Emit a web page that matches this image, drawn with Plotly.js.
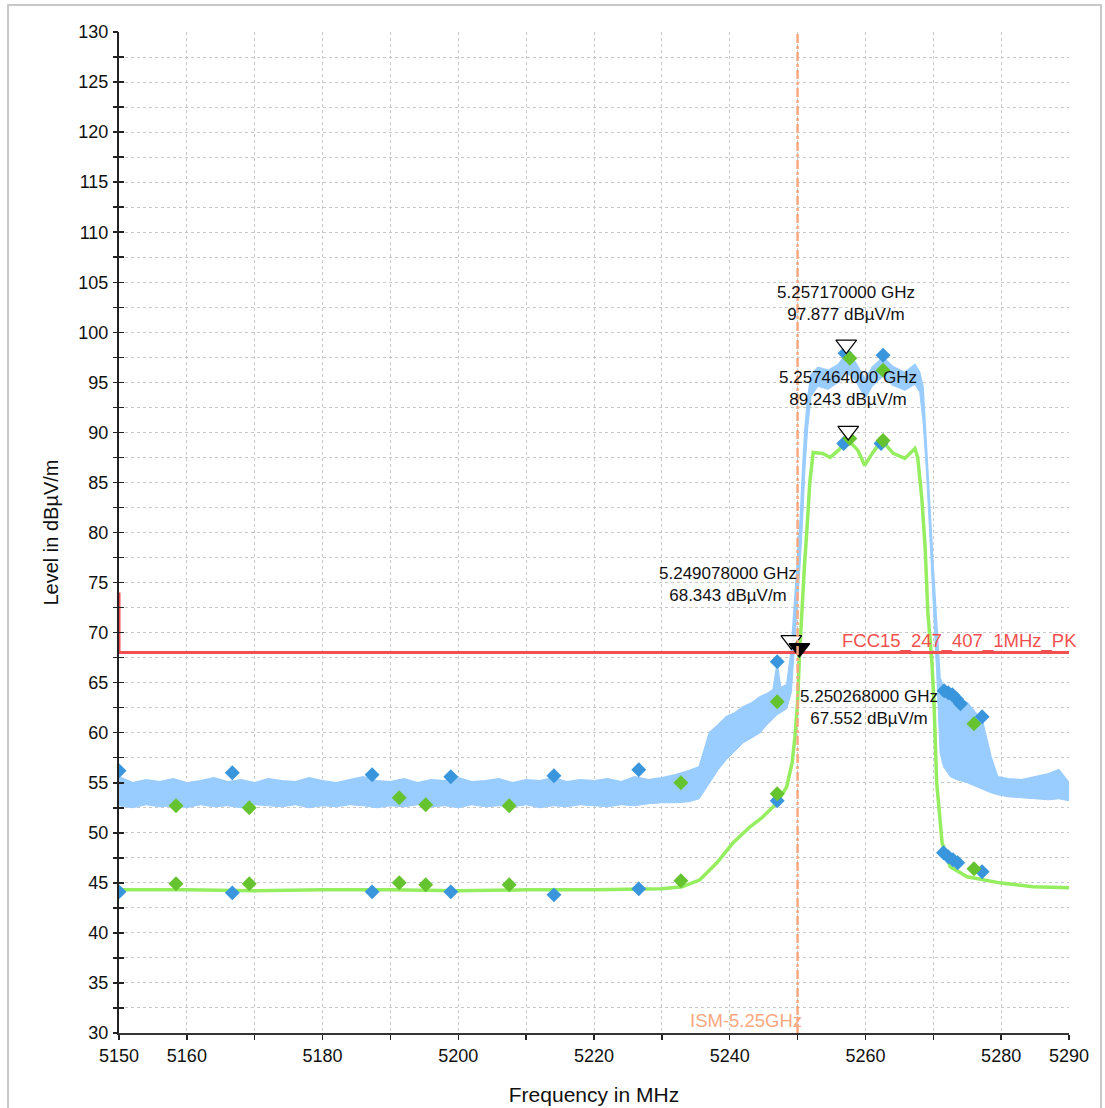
<!DOCTYPE html>
<html>
<head>
<meta charset="utf-8">
<script src="https://cdn.plot.ly/plotly-3.0.1.min.js"></script>
<style>
html,body{margin:0;padding:0;background:#fff;}
#chart{width:1105px;height:1108px;}
</style>
</head>
<body>
<div id="chart"></div>
<script>
// ---------------- DATA ----------------
// Peak trace (blue) drawn as a noise band: frequency (MHz), upper and lower envelope (dBµV/m)
const peakFreq = [5150,5152,5154,5156,5158,5160,5162,5164,5166,5168,5170,5172,5174,5176,5178,5180,5182,5184,5186,5188,5190,5192,5194,5196,5198,5200,5202,5204,5206,5208,5210,5212,5214,5216,5218,5220,5222,5224,5226,5228,5230,
  5232,5234,5235.5,5237,5238.3,5239.5,5240.8,5242,5243.3,5244.5,5245.5,5246.4,5247,5247.5,5248.4,5249.08,5249.5,5250,5250.4,5250.8,5251.1,5251.5,5252,5253,5254.5,5256,5257.17,5258.5,5260,5261,5262.6,5264,5265.8,5267.3,5268,5268.5,5269,5269.5,5270,5270.5,5271,5271.5,5272.5,5273.5,5275,5276,5277.3,5278.5,5279.5,5281,5283,5285,5287,5288.5,5290];
const peakUpper = [55.6,55.0,55.3,55.1,55.4,55.0,55.2,55.5,55.1,55.3,55.0,55.4,55.2,55.1,55.5,55.2,55.0,55.3,55.6,55.2,55.1,55.4,55.0,55.3,55.2,55.5,55.1,55.2,55.4,55.0,55.3,55.2,55.5,55.1,55.3,55.2,55.4,55.1,55.6,55.3,55.5,
  55.8,56.2,56.6,60.0,60.8,61.6,62.0,62.6,63.0,63.6,63.9,64.3,67.0,64.5,64.8,68.3,72.5,77.5,81.5,87.0,90.5,93.5,95.8,96.5,96.2,96.8,97.9,97.0,95.3,96.5,97.5,96.6,96.0,96.8,96.0,94.5,89.0,82.5,76.5,70.5,65.5,64.6,64.0,63.6,63.0,62.2,61.0,57.6,55.6,55.4,55.3,55.6,55.9,56.3,55.0];
const peakLower = [52.7,52.5,52.8,52.6,52.7,52.5,52.8,52.6,52.7,52.5,52.8,52.7,52.6,52.8,52.5,52.7,52.6,52.8,52.7,52.5,52.7,52.6,52.8,52.6,52.7,52.5,52.8,52.6,52.7,52.6,52.8,52.5,52.7,52.6,52.8,52.7,52.6,52.8,52.7,52.9,53.0,
  53.0,53.1,53.4,55.0,56.3,57.3,58.2,59.0,59.5,60.0,60.8,61.4,61.8,62.0,62.4,64.0,68.0,73.0,77.0,82.0,86.5,90.5,93.6,94.6,94.3,95.0,96.0,95.2,93.4,94.6,95.6,94.7,94.2,94.8,94.0,91.0,86.0,79.5,73.0,66.0,58.0,56.6,55.6,55.3,55.0,54.7,54.3,54.0,53.8,53.6,53.5,53.4,53.3,53.4,53.2];

// Average trace (green)
const avgFreq = [5150,5160,5170,5180,5190,5200,5210,5220,5230,5233,5235.6,5238.1,5240.5,5243,5244.9,5247,5248.4,5249.2,5249.6,5250.0,5250.27,5250.6,5251.0,5251.4,5251.8,5252.3,5253.7,5254.8,5256,5257.46,5258.9,5259.9,5261,5262.4,5264.1,5265.8,5267.3,5267.7,5268.3,5268.8,5269.2,5269.8,5270.1,5270.5,5271.3,5272.5,5275,5279.8,5284.7,5290];
const avgLevel = [44.3,44.3,44.2,44.3,44.3,44.2,44.3,44.3,44.4,44.6,45.3,47.0,49.0,50.6,51.6,53.0,54.6,57.0,59.5,63.0,67.55,72.0,76.5,80.5,85.0,88.0,87.9,87.5,88.2,89.24,88.2,86.7,87.9,89.2,87.9,87.4,88.4,87.5,83.5,78.5,72.0,67.0,63.0,55.0,49.0,46.6,45.6,45.0,44.6,44.5];

// Final measurement points (diamonds)
const peakPtsFreq  = [5150,5166.7,5187.3,5198.9,5214.1,5226.6,5247.0,5257.0,5262.6,5271.6,5272.2,5272.8,5273.4,5274.0,5277.2,
                      5150,5166.7,5187.3,5198.9,5214.1,5226.6,5247.0,5256.8,5262.3,5271.5,5272.2,5272.9,5273.6,5277.2];
const peakPtsLevel = [56.2,56.0,55.8,55.6,55.7,56.3,67.1,97.9,97.7,64.2,64.0,63.8,63.4,62.9,61.6,
                      44.1,44.0,44.1,44.1,43.8,44.4,53.2,88.9,88.9,48.0,47.6,47.3,47.0,46.1];
const avgPtsFreq   = [5158.4,5169.2,5191.3,5195.2,5207.5,5232.8,5247.0,5257.7,5262.6,5276.0,
                      5158.4,5169.2,5191.3,5195.2,5207.5,5232.8,5247.0,5257.7,5262.6,5276.0];
const avgPtsLevel  = [52.7,52.5,53.5,52.8,52.7,55.0,63.1,97.4,96.2,60.9,
                      44.9,44.9,45.0,44.8,44.8,45.2,53.9,89.4,89.2,46.4];

// Markers (GHz) and levels
const markerFreqGHz = [5.257170000, 5.257464000, 5.249078000, 5.250268000];
const markerLevel   = [97.877, 89.243, 68.343, 67.552];
const markerFilled  = [false, false, false, true];

// Limit line
const limitName  = "FCC15_247_407_1MHz_PK";
const limitFreq  = [5150, 5150, 5290];
const limitLevel = [74, 68, 68];

// Band edge
const ismName = "ISM-5.25GHz";
const ismFreq = 5250;

// Axis ticks
const xTickVals = [5150,5160,5170,5180,5190,5200,5210,5220,5230,5240,5250,5260,5270,5280,5290];
const xTickText = ["5150","5160","","5180","","5200","","5220","","5240","","5260","","5280","5290"];

// ---------------- STYLE ----------------
const FONT = '"Liberation Sans", Arial, Helvetica, sans-serif';
const C_PEAK = 'rgb(153,204,255)';
const C_AVG = 'rgb(148,238,96)';
const C_PEAK_PT = 'rgb(58,150,220)';
const C_AVG_PT = 'rgb(102,195,48)';
const C_LIMIT = 'rgb(242,80,80)';
const C_ISM = 'rgb(250,168,128)';
const GRID = 'rgb(200,200,200)';
const TRI_OFFSET = 0.9; // dB, triangle drawn above its point

const markerMHz = markerFreqGHz.map(g => g * 1000);

const traces = [
  {x: peakFreq, y: peakLower, mode: 'lines', line: {color: C_PEAK, width: 1}, hoverinfo: 'skip', showlegend: false},
  {x: peakFreq, y: peakUpper, mode: 'lines', line: {color: C_PEAK, width: 1.5}, fill: 'tonexty', fillcolor: C_PEAK, hoverinfo: 'skip', showlegend: false},
  {x: avgFreq, y: avgLevel, mode: 'lines', line: {color: C_AVG, width: 3.5}, showlegend: false},
  {x: limitFreq, y: limitLevel, mode: 'lines', line: {color: C_LIMIT, width: 3}, showlegend: false},
  {x: peakPtsFreq, y: peakPtsLevel, mode: 'markers', marker: {symbol: 'diamond', size: 11.5, color: C_PEAK_PT}, showlegend: false},
  {x: avgPtsFreq, y: avgPtsLevel, mode: 'markers', marker: {symbol: 'diamond', size: 11.5, color: C_AVG_PT}, showlegend: false},
  {x: markerMHz, y: markerLevel.map(v => v + TRI_OFFSET), mode: 'markers',
   marker: {symbol: 'triangle-down', size: 18, color: markerFilled.map(f => f ? '#000' : '#fff'), line: {color: '#000', width: 1.2}}, showlegend: false},
  // helper so the overlay axis (outer ticks) is drawn
  {x: [5150], y: [30], yaxis: 'y2', mode: 'markers', marker: {opacity: 0}, hoverinfo: 'skip', showlegend: false}
];

const annShift = [[0, 50], [0, 51], [-63, 65], [70, -50]];
const annotations = markerMHz.map((f, i) => ({
  x: f, y: markerLevel[i], xref: 'x', yref: 'y', showarrow: false,
  xshift: annShift[i][0], yshift: annShift[i][1],
  text: markerFreqGHz[i].toFixed(9) + ' GHz<br>' + markerLevel[i].toFixed(3) + ' dBµV/m',
  font: {family: FONT, size: 17, color: '#111'}, align: 'center'
}));
annotations.push({x: limitFreq[limitFreq.length - 1], y: limitLevel[limitLevel.length - 1], xref: 'x', yref: 'y',
  showarrow: false, xanchor: 'right', yanchor: 'bottom', xshift: 10, yshift: -1,
  text: limitName, font: {family: FONT, size: 18.5, color: C_LIMIT}});
annotations.push({x: ismFreq, y: 30, xref: 'x', yref: 'y', showarrow: false, xanchor: 'right', yanchor: 'bottom',
  xshift: 6, yshift: 0, text: ismName, font: {family: FONT, size: 18.5, color: C_ISM}});

const tickFont = {family: FONT, size: 18, color: '#111'};
const layout = {
  width: 1105, height: 1108,
  margin: {l: 119, r: 36, t: 32, b: 75},
  paper_bgcolor: '#fff', plot_bgcolor: '#fff',
  font: {family: FONT, size: 16, color: '#111'},
  showlegend: false,
  xaxis: {
    range: [5150, 5290], tickmode: 'array', tickvals: xTickVals, ticktext: xTickText,
    ticks: 'outside', ticklen: 5, tickwidth: 1.5, tickcolor: '#222',
    showline: true, linecolor: '#333', linewidth: 2,
    showgrid: true, gridcolor: GRID, griddash: 'dot', gridwidth: 1, zeroline: false,
    tickfont: tickFont,
    title: {text: 'Frequency in MHz', font: {family: FONT, size: 21, color: '#111'}, standoff: 23}
  },
  yaxis: {
    range: [30, 130], tick0: 30, dtick: 5,
    ticks: 'inside', ticklen: 5, tickwidth: 1.5, tickcolor: '#222', ticklabelstandoff: 5,
    showline: true, linecolor: '#222', linewidth: 2,
    showgrid: true, gridcolor: GRID, griddash: 'dot', gridwidth: 1, zeroline: false,
    minor: {dtick: 2.5, ticks: 'inside', ticklen: 5, tickwidth: 1.5, tickcolor: '#222', showgrid: true, gridcolor: GRID, griddash: 'dot', gridwidth: 1},
    tickfont: tickFont,
    title: {text: 'Level in dBµV/m', font: {family: FONT, size: 20, color: '#111'}, standoff: 14}
  },
  yaxis2: {
    overlaying: 'y', side: 'left', range: [30, 130], tick0: 30, dtick: 5,
    ticks: 'outside', ticklen: 5, tickwidth: 1.5, tickcolor: '#222', showticklabels: false,
    showline: false, showgrid: false, zeroline: false,
    minor: {dtick: 2.5, ticks: 'outside', ticklen: 5, tickwidth: 1.5, tickcolor: '#222', showgrid: false}
  },
  shapes: [
    {type: 'line', xref: 'x', yref: 'paper', x0: ismFreq, x1: ismFreq, y0: 0, y1: 1,
     line: {color: C_ISM, width: 2.5, dash: 'dashdot'}, layer: 'above'},
    {type: 'rect', xref: 'paper', yref: 'paper', x0: -0.1168, x1: 1.0337, y0: -0.08, y1: 1.027,
     line: {color: 'rgb(200,200,200)', width: 2}, fillcolor: 'rgba(0,0,0,0)', layer: 'below'}
  ],
  annotations: annotations
};

Plotly.newPlot('chart', traces, layout, {displayModeBar: false, staticPlot: true});
</script>
</body>
</html>
